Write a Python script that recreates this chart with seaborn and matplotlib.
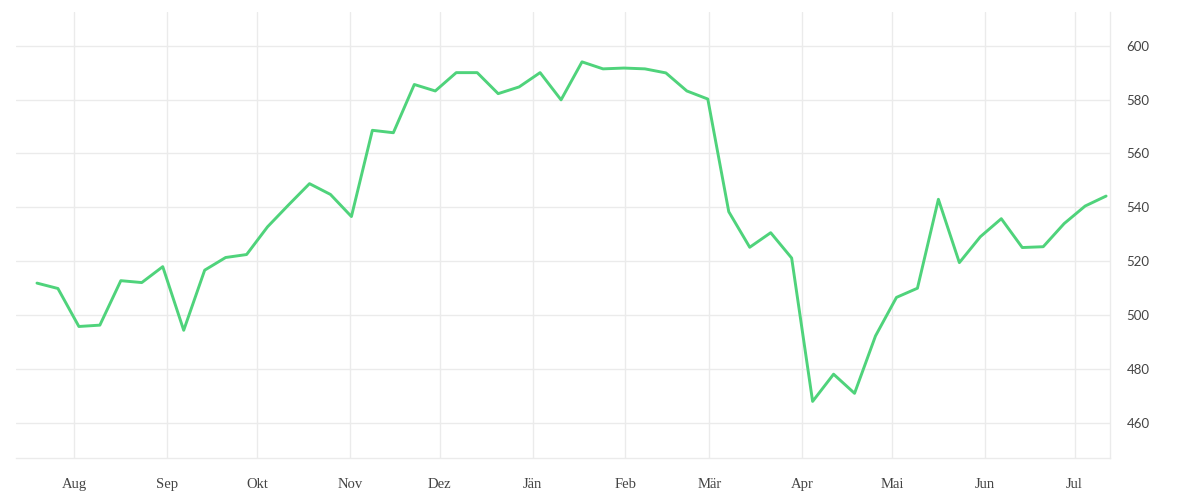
import pandas as pd
import matplotlib.pyplot as plt
import matplotlib.dates as mdates
from matplotlib.ticker import FuncFormatter
import seaborn as sns

# Wöchentliche Werte
start_date = "2022-07-19 12:00"
values = [511.9, 509.9, 495.8, 496.3, 512.8, 512.1, 518.0, 494.4, 516.7, 521.4,
          522.5, 532.8, 540.9, 548.8, 544.8, 536.6, 568.6, 567.7, 585.6, 583.2,
          590.0, 590.0, 582.2, 584.7, 590.0, 579.9, 594.0, 591.4, 591.7, 591.4,
          589.9, 583.2, 580.2, 538.4, 525.2, 530.6, 521.2, 468.0, 478.1, 471.0,
          492.3, 506.6, 510.0, 543.0, 519.5, 529.1, 535.8, 525.1, 525.4, 534.0,
          540.5, 544.2]
month_names = ["Jän", "Feb", "Mär", "Apr", "Mai", "Jun",
               "Jul", "Aug", "Sep", "Okt", "Nov", "Dez"]
y_ticks = [460, 480, 500, 520, 540, 560, 580, 600]

weeks = pd.date_range(start_date, periods=len(values), freq="7D")
df = pd.DataFrame({"datum": weeks, "wert": values})

sns.set_style("white")
grid_col = "#ebebeb"
text_col = "#444444"

fig = plt.figure(figsize=(12, 5), dpi=100)
ax = fig.add_axes([16 / 1200, 42 / 500, 1094 / 1200, 446 / 500])

sns.lineplot(data=df, x="datum", y="wert", ax=ax, color="#4fd37b", linewidth=2.1)

ax.set_xlim(weeks[0] - pd.Timedelta(days=7), weeks[-1] + pd.Timedelta(days=1.3))
ax.set_ylim(447, 612.5)
ax.set_xlabel("")
ax.set_ylabel("")

ax.xaxis.set_major_locator(mdates.MonthLocator())
ax.xaxis.set_major_formatter(FuncFormatter(lambda x, pos: month_names[mdates.num2date(x).month - 1]))
ax.yaxis.tick_right()
ax.set_yticks(y_ticks)

ax.grid(True, color=grid_col, linewidth=1)
ax.set_axisbelow(True)
for side in ["top", "left"]:
    ax.spines[side].set_visible(False)
for side in ["bottom", "right"]:
    ax.spines[side].set_color(grid_col)
    ax.spines[side].set_linewidth(1)

ax.tick_params(axis="x", length=5, width=1, color=grid_col, pad=9.5, labelcolor=text_col)
ax.tick_params(axis="y", length=0, pad=12, labelcolor=text_col)
for lab in ax.get_xticklabels():
    lab.set_fontfamily("Liberation Serif")
    lab.set_fontsize(10.5)
for lab in ax.get_yticklabels():
    lab.set_fontfamily("Lato")
    lab.set_fontsize(9.5)

plt.savefig("out.png", dpi=100)
